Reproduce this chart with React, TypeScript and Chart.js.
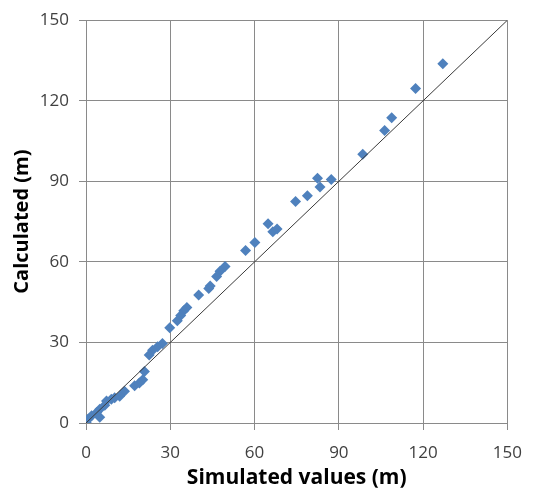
import React, { useEffect, useRef } from "react";
import { Chart, registerables } from "chart.js";

Chart.register(...registerables);

const simulated: number[] = [
  127.0, 117.3, 108.8, 106.3, 98.5, 82.4, 87.3, 83.3, 78.8, 74.6,
  64.8, 66.5, 68.0, 60.1, 56.8, 49.5, 47.7, 46.5, 44.2, 43.7, 40.1,
  35.9, 34.8, 33.7, 32.5, 29.8, 27.2, 25.5, 23.7, 22.5,
  20.8, 20.2, 19.0, 17.3, 13.7, 12.0, 10.2, 9.0, 7.3, 6.7, 4.9, 3.8, 4.9, 2.0, 0.8, 0.1,
];
const calculated: number[] = [
  133.8, 124.6, 113.7, 108.9, 100.1, 91.1, 90.7, 87.9, 84.6, 82.5,
  74.2, 71.2, 72.2, 67.2, 64.2, 58.3, 56.5, 54.6, 51.0, 50.1, 47.7,
  43.0, 41.8, 40.0, 38.1, 35.5, 29.6, 28.4, 27.1, 25.3,
  19.2, 16.1, 14.9, 13.9, 11.8, 10.0, 9.4, 8.8, 8.2, 6.6, 5.1, 3.9, 2.1, 2.7, 1.5, 0.3,
];
const identityLine = [0, 150];
const axisMin = 0;
const axisMax = 150;
const axisStep = 30;

export default function App() {
  const ref = useRef<HTMLCanvasElement | null>(null);
  useEffect(() => {
    document.body.style.margin = "0";
    if (!ref.current) return;
    const font = "'Open Sans', 'Liberation Sans', sans-serif";
    const chart = new Chart(ref.current, {
      type: "scatter",
      data: {
        datasets: [
          {
            type: "line",
            data: identityLine.map((v) => ({ x: v, y: v })),
            borderColor: "#3a3a3a",
            borderWidth: 1,
            pointRadius: 0,
            order: 0,
          } as any,
          {
            data: simulated.map((x, i) => ({ x, y: calculated[i] })),
            pointStyle: "rectRot",
            pointRadius: 5.5,
            backgroundColor: "#4F81BD",
            borderColor: "#4F81BD",
            borderWidth: 0,
            order: 1,
          },
        ],
      },
      options: {
        animation: false,
        responsive: false,
        layout: { padding: { left: 0, right: 24, top: 16, bottom: 0 } },
        plugins: { legend: { display: false }, tooltip: { enabled: false } },
        scales: {
          x: {
            type: "linear",
            min: axisMin,
            max: axisMax,
            ticks: { stepSize: axisStep, color: "#404040", font: { family: font, size: 17 }, padding: 13 },
            grid: { color: "#8a8a8a", tickLength: 7, lineWidth: 1 },
            border: { color: "#8a8a8a" },
            title: {
              display: true,
              text: "Simulated values (m)",
              color: "#000",
              font: { family: font, size: 21, weight: "bold" },
              padding: { top: 0, bottom: 4 },
            },
            afterFit: (s: any) => {
              s.height = 72;
            },
          },
          y: {
            type: "linear",
            min: axisMin,
            max: axisMax,
            ticks: { stepSize: axisStep, color: "#404040", font: { family: font, size: 17 }, padding: 10 },
            grid: { color: "#8a8a8a", tickLength: 7, lineWidth: 1 },
            border: { color: "#8a8a8a" },
            title: {
              display: true,
              text: "Calculated (m)",
              color: "#000",
              font: { family: font, size: 20, weight: "bold" },
              padding: { top: 10, bottom: 0 },
            },
            afterFit: (s: any) => {
              s.width = 86;
            },
          },
        },
      },
    });
    return () => chart.destroy();
  }, []);
  return (
    <div style={{ width: 535, height: 495, background: "#fff" }}>
      <canvas ref={ref} width={535} height={495} />
    </div>
  );
}
